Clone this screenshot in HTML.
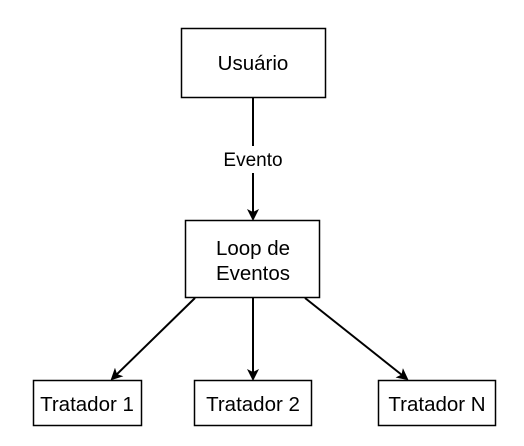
<!DOCTYPE html>
<html><head><meta charset="utf-8"><style>
html,body{margin:0;padding:0;background:#fff;}
svg{display:block;}
text{font-family:"Liberation Sans",Arial,sans-serif;fill:#000;}
</style></head><body>
<svg width="524" height="446" viewBox="0 0 524 446" xmlns="http://www.w3.org/2000/svg">
<defs>
<marker id="a" markerWidth="12" markerHeight="12" refX="10" refY="6" orient="auto" markerUnits="userSpaceOnUse">
<path d="M0,0 L12,6 L0,12 L3,6 Z" fill="#000"/>
</marker>
</defs>
<g fill="#fff" stroke="#000" stroke-width="1.5">
<rect x="181.5" y="28.5" width="144" height="69"/>
<rect x="185.5" y="220.5" width="134" height="77"/>
<rect x="33.5" y="380.5" width="108" height="45"/>
<rect x="194.5" y="380.5" width="117" height="45"/>
<rect x="378.5" y="380.5" width="117" height="45"/>
</g>
<g stroke="#000" stroke-width="2" fill="none">
<line x1="253" y1="98" x2="253" y2="146"/>
<line x1="253" y1="173" x2="253" y2="219" marker-end="url(#a)"/>
<line x1="195" y1="298" x2="112" y2="379" marker-end="url(#a)"/>
<line x1="253" y1="298" x2="253" y2="379" marker-end="url(#a)"/>
<line x1="305" y1="298" x2="407" y2="379" marker-end="url(#a)"/>
</g>
<g font-size="20.5" text-anchor="middle">
<text x="253" y="70">Usuário</text>
<text x="253" y="255">Loop de</text>
<text x="253" y="280">Eventos</text>
<text x="87" y="411">Tratador 1</text>
<text x="253" y="411">Tratador 2</text>
<text x="437" y="411">Tratador N</text>
</g>
<text x="253" y="166" font-size="19" text-anchor="middle">Evento</text>
</svg>
</body></html>
